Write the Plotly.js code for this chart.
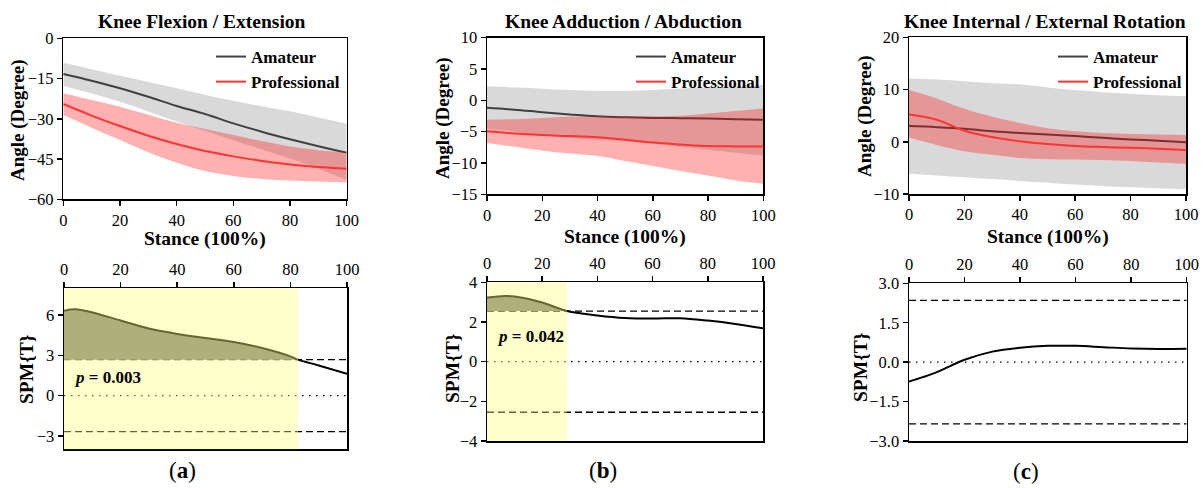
<!DOCTYPE html>
<html><head><meta charset="utf-8">
<script src="https://cdn.plot.ly/plotly-3.0.1.min.js"></script>
<style>html,body{margin:0;padding:0;background:#fff}</style>
</head><body>
<div id="chart" style="width:1204px;height:488px"></div>
<script>
// ---------- DATA ----------
const stance = [0,10,20,30,40,50,60,70,80,90,100];

// (a) Knee Flexion / Extension
const flexAmMean  = [-13.3,-15.8,-18.6,-21.8,-25.2,-28.2,-31.7,-34.8,-37.6,-40.2,-42.6];
const flexAmUpper = [-9.1,-11.5,-14.0,-16.3,-18.6,-21.0,-23.3,-25.3,-27.2,-29.5,-31.8];
const flexAmLower = [-17.8,-20.6,-23.6,-27.3,-31.0,-34.5,-38.0,-41.4,-44.8,-48.6,-52.8];
const flexPrMean  = [-24.5,-28.8,-32.7,-36.3,-39.4,-42.0,-44.0,-45.7,-47.0,-48.0,-48.6];
const flexPrUpper = [-20.5,-23.0,-25.5,-28.5,-31.5,-33.8,-36.0,-38.3,-40.3,-41.7,-42.5];
const flexPrLower = [-28.6,-33.3,-37.9,-42.5,-46.4,-49.5,-51.3,-52.4,-53.0,-53.4,-53.7];

// (b) Knee Adduction / Abduction
const addAmMean  = [-1.2,-1.5,-1.9,-2.25,-2.55,-2.7,-2.8,-2.85,-2.9,-3.0,-3.1];
const addAmUpper = [2.25,2.05,1.85,1.65,1.5,1.5,1.65,1.9,2.1,2.3,2.5];
const addAmLower = [-4.5,-5.0,-5.6,-6.0,-6.3,-6.5,-6.9,-7.4,-7.9,-8.35,-8.8];
const addPrMean  = [-4.95,-5.3,-5.55,-5.7,-5.9,-6.3,-6.75,-7.05,-7.3,-7.35,-7.35];
const addPrUpper = [-3.1,-3.0,-2.8,-2.6,-2.5,-2.5,-2.55,-2.45,-2.1,-1.7,-1.3];
const addPrLower = [-6.8,-7.4,-8.0,-8.5,-8.9,-9.7,-10.5,-11.3,-12.0,-12.8,-13.3];

// (c) Knee Internal / External Rotation
const rotAmMean  = [3.0,2.8,2.5,2.0,1.7,1.4,1.1,0.75,0.45,0.2,-0.1];
const rotAmUpper = [12.1,11.9,11.6,11.2,11.0,10.4,9.9,9.5,9.2,8.9,8.7];
const rotAmLower = [-6.1,-6.45,-6.8,-7.15,-7.5,-7.85,-8.2,-8.45,-8.7,-8.9,-9.1];
const rotPrMean  = [5.2,4.2,2.1,0.9,0.1,-0.45,-0.8,-1.0,-1.15,-1.35,-1.6];
const rotPrUpper = [9.9,8.3,6.3,4.8,3.6,2.6,2.0,1.7,1.5,1.4,1.3];
const rotPrLower = [0.8,-0.6,-1.8,-2.5,-3.1,-3.35,-3.4,-3.5,-3.7,-3.95,-4.2];

// SPM{T} curves
const spmAx = [0,4,10,20,30,40,50,60,70,80,82.7,90,100];
const spmAy = [6.32,6.43,6.2,5.6,5.0,4.6,4.3,4.0,3.55,2.93,2.68,2.25,1.63];
const spmBx = [0,6.5,10,20,29,40,50,60,70,80,90,100];
const spmBy = [3.23,3.31,3.28,2.98,2.55,2.33,2.2,2.17,2.19,2.07,1.9,1.68];
const spmCx = [0,5,10,15,20,30,40,50,60,70,80,90,100];
const spmCy = [-0.74,-0.57,-0.38,-0.14,0.09,0.4,0.55,0.62,0.62,0.57,0.52,0.5,0.51];

const thresholds = [2.68, 2.55, 2.35];
const clusters = [[0,82.7],[0,29],null];
const pValues = ["0.003","0.042",null];

const titles = ["Knee Flexion / Extension","Knee Adduction / Abduction","Knee Internal / External Rotation"];
const panelLabels = ["a","b","c"];
const groupNames = ["Amateur","Professional"];

// ---------- LAYOUT HELPERS ----------
const W = 1204, H = 488;
const fx = p => p / W;
const fy = p => 1 - p / H;
const FONT = "'Liberation Serif', 'Times New Roman', serif";

const AM_LINE = "#404040", PR_LINE = "#ff3333";
const AM_BAND = "rgba(128,128,128,0.3)", PR_BAND = "rgba(255,10,10,0.32)";

const traces = [];
const topPanels = [
  {m:flexAmMean,u:flexAmUpper,l:flexAmLower,pm:flexPrMean,pu:flexPrUpper,pl:flexPrLower},
  {m:addAmMean,u:addAmUpper,l:addAmLower,pm:addPrMean,pu:addPrUpper,pl:addPrLower},
  {m:rotAmMean,u:rotAmUpper,l:rotAmLower,pm:rotPrMean,pu:rotPrUpper,pl:rotPrLower}
];
topPanels.forEach((d,i) => {
  const xa = 'x' + (i===0?'':(i+1)), ya = 'y' + (i===0?'':(i+1));
  const lg = i===0 ? 'legend' : 'legend' + (i+1);
  const sp = {shape:'spline', smoothing:1, width:0};
  traces.push({x:stance, y:d.u, xaxis:xa, yaxis:ya, mode:'lines', line:sp, showlegend:false, hoverinfo:'skip'});
  traces.push({x:stance, y:d.l, xaxis:xa, yaxis:ya, mode:'lines', line:sp, fill:'tonexty', fillcolor:AM_BAND, showlegend:false, hoverinfo:'skip'});
  traces.push({x:stance, y:d.m, xaxis:xa, yaxis:ya, mode:'lines', name:groupNames[0], legend:lg,
    line:{shape:'spline', smoothing:1, width:2, color:AM_LINE}});
  traces.push({x:stance, y:d.pu, xaxis:xa, yaxis:ya, mode:'lines', line:sp, showlegend:false, hoverinfo:'skip'});
  traces.push({x:stance, y:d.pl, xaxis:xa, yaxis:ya, mode:'lines', line:sp, fill:'tonexty', fillcolor:PR_BAND, showlegend:false, hoverinfo:'skip'});
  traces.push({x:stance, y:d.pm, xaxis:xa, yaxis:ya, mode:'lines', name:groupNames[1], legend:lg,
    line:{shape:'spline', smoothing:1, width:2, color:PR_LINE}});
});

const spm = [[spmAx,spmAy],[spmBx,spmBy],[spmCx,spmCy]];
spm.forEach((s,i) => {
  const xa = 'x' + (i+4), ya = 'y' + (i+4);
  const thr = thresholds[i];
  traces.push({x:[0,100], y:[0,0], xaxis:xa, yaxis:ya, mode:'lines', showlegend:false, hoverinfo:'skip',
    line:{color:'#000', width:1.3, dash:'1.5px,5.5px'}});
  traces.push({x:[0,100], y:[thr,thr], xaxis:xa, yaxis:ya, mode:'lines', showlegend:false, hoverinfo:'skip',
    line:{color:'#000', width:1.3, dash:'7px,4px'}});
  traces.push({x:[0,100], y:[-thr,-thr], xaxis:xa, yaxis:ya, mode:'lines', showlegend:false, hoverinfo:'skip',
    line:{color:'#000', width:1.3, dash:'7px,4px'}});
  if (clusters[i]) {
    const cx = [], cy = [];
    s[0].forEach((xv,k) => { if (xv >= clusters[i][0] && xv <= clusters[i][1]) { cx.push(xv); cy.push(s[1][k]); } });
    traces.push({x:cx, y:cx.map(()=>thr), xaxis:xa, yaxis:ya, mode:'lines', line:{width:0}, showlegend:false, hoverinfo:'skip'});
    traces.push({x:cx, y:cy, xaxis:xa, yaxis:ya, mode:'lines', line:{width:0, shape:'spline', smoothing:1},
      fill:'tonexty', fillcolor:'#7b7b7b', showlegend:false, hoverinfo:'skip'});
  }
  traces.push({x:s[0], y:s[1], xaxis:xa, yaxis:ya, mode:'lines', showlegend:false,
    line:{color:'#000', width:2, shape:'spline', smoothing:1}});
});

const axBase = {
  showgrid:false, zeroline:false, showline:true, linecolor:'#000', linewidth:1.5, mirror:true,
  ticks:'outside', ticklen:5, tickwidth:1.5, tickcolor:'#000',
  tickfont:{family:FONT, size:16.5, color:'#000'}, fixedrange:true
};
const ax = (o) => Object.assign({}, axBase, o);

const layout = {
  width:W, height:H, margin:{l:0,r:0,t:0,b:0}, paper_bgcolor:'#fff', plot_bgcolor:'rgba(0,0,0,0)',
  font:{family:FONT, color:'#000'},
  xaxis:  ax({domain:[fx(63.3),fx(346.7)], anchor:'y', range:[0,100], dtick:20}),
  yaxis:  ax({domain:[fy(199.3),fy(38.3)], anchor:'x', range:[-60,0], dtick:15}),
  xaxis2: ax({domain:[fx(487),fx(763.3)], anchor:'y2', range:[0,100], dtick:20}),
  yaxis2: ax({domain:[fy(194.3),fy(37.7)], anchor:'x2', range:[-15,10], dtick:5}),
  xaxis3: ax({domain:[fx(909),fx(1186)], anchor:'y3', range:[0,100], dtick:20}),
  yaxis3: ax({domain:[fy(194),fy(37.3)], anchor:'x3', range:[-10,20], dtick:10}),
  xaxis4: ax({domain:[fx(64),fx(347)], anchor:'y4', range:[0,100], dtick:20, side:'top'}),
  yaxis4: ax({domain:[fy(449.3),fy(288.3)], anchor:'x4', range:[-4,8], tickvals:[-3,0,3,6]}),
  xaxis5: ax({domain:[fx(487),fx(763)], anchor:'y5', range:[0,100], dtick:20, side:'top'}),
  yaxis5: ax({domain:[fy(441),fy(282.3)], anchor:'x5', range:[-4,4], dtick:2}),
  xaxis6: ax({domain:[fx(909),fx(1186.7)], anchor:'y6', range:[0,100], dtick:20, side:'top'}),
  yaxis6: ax({domain:[fy(441),fy(283.3)], anchor:'x6', range:[-3,3], dtick:1.5, tickformat:'.1f'}),
  shapes:[], annotations:[]
};

const legLeft = [211, 631, 1053];
legLeft.forEach((lx,i) => {
  const key = i===0 ? 'legend' : 'legend' + (i+1);
  layout[key] = {x:fx(lx), y:fy(39), xanchor:'left', yanchor:'top', bgcolor:'rgba(0,0,0,0)',
    borderwidth:0, tracegroupgap:0, itemwidth:30, traceorder:'normal',
    font:{family:FONT, size:17, color:'#000', weight:'bold'}};
});

clusters.forEach((c,i) => {
  if (!c) return;
  layout.shapes.push({type:'rect', xref:'x'+(i+4), yref:'y'+(i+4)+' domain', x0:c[0], x1:c[1], y0:0, y1:1,
    fillcolor:'rgba(255,255,128,0.4)', line:{width:0}, layer:'above'});
});

const ann = (text, x, y, size, extra) => Object.assign({text, x:fx(x), y:fy(y), xref:'paper', yref:'paper',
  showarrow:false, xanchor:'center', yanchor:'middle', font:{family:FONT, size, color:'#000'}}, extra||{});

const titleX = [202, 623, 1045];
const stanceX = [205, 625, 1048], stanceY = [239, 237, 237];
const angleX = [18, 443, 865], angleY = [120, 118, 116];
const spmLabX = [26, 452, 860], spmLabY = [369, 368, 367];
const labX = [182, 603, 1026], labY = [470, 470, 471];
titles.forEach((t,i) => {
  layout.annotations.push(ann('<b>'+t+'</b>', titleX[i], 21, 19.5));
  layout.annotations.push(ann('<b>Stance (100%)</b>', stanceX[i], stanceY[i], 19.5));
  layout.annotations.push(ann('<b>Angle (Degree)</b>', angleX[i], angleY[i], 19, {textangle:-90}));
  layout.annotations.push(ann('<b>SPM{T}</b>', spmLabX[i], spmLabY[i], 19.5, {textangle:-90}));
  layout.annotations.push(ann('(<b>'+panelLabels[i]+'</b>)', labX[i], labY[i], 23));
});
const pX = [72, 495], pY = [377, 336];
pValues.forEach((p,i) => {
  if (!p) return;
  layout.annotations.push(ann('<b><i>p</i> = '+p+'</b>', pX[i], pY[i], 17, {xanchor:'left'}));
});

Plotly.newPlot('chart', traces, layout, {displayModeBar:false, staticPlot:true});
</script>
</body></html>
